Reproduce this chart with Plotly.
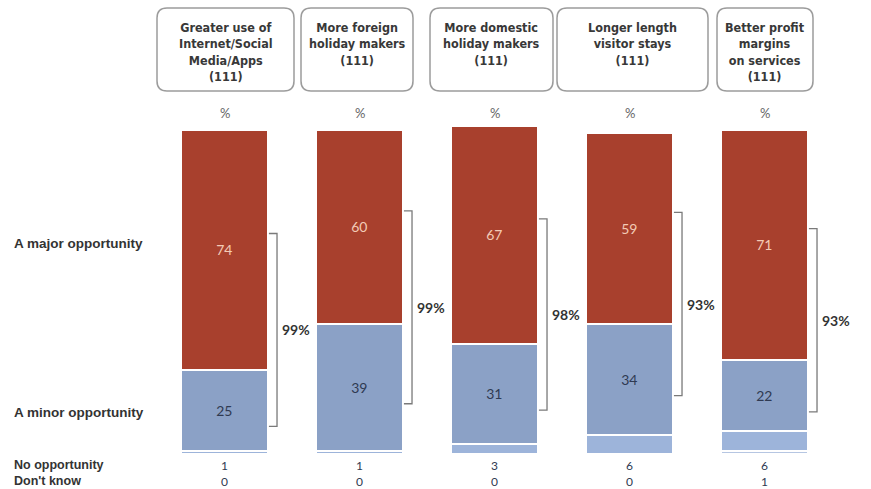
import plotly.graph_objects as go

# Survey data: share of respondents (%) per opportunity area
categories = [
    "Greater use of<br>Internet/Social<br>Media/Apps<br>(111)",
    "More foreign<br>holiday makers<br>(111)",
    "More domestic<br>holiday makers<br>(111)",
    "Longer length<br>visitor stays<br>(111)",
    "Better profit<br>margins<br>on services<br>(111)",
]
major = [74, 60, 67, 59, 71]
minor = [25, 39, 31, 34, 22]
no_opp = [1, 1, 3, 6, 6]
dont_know = [0, 0, 0, 0, 1]
row_labels = ["A major opportunity", "A minor opportunity", "No opportunity", "Don't know"]

W, H = 871, 489
ML, MR, MT, MB = 157, 39, 120, 35
PW, PH = W - ML - MR, H - MT - MB
YMAX = 103

C_MAJOR = "#A8402D"
C_MINOR = "#8BA1C6"
C_NOOP = "#9DB4DA"
C_DK = "#B6C6E2"

NUM_FONT = "Lato, 'Open Sans', sans-serif"
HEAD_FONT = "'Liberation Sans Narrow', 'Arial Narrow', 'DejaVu Sans Condensed', sans-serif"
ROW_FONT = "'Liberation Sans', Arial, sans-serif"

x = list(range(len(categories)))
BAR_W = 0.648
line = dict(color="white", width=2.5)

fig = go.Figure()
fig.add_bar(x=x, y=dont_know, width=BAR_W, marker=dict(color=C_DK, line=line),
            hoverinfo="skip")
fig.add_bar(x=x, y=no_opp, width=BAR_W, marker=dict(color=C_NOOP, line=line),
            hoverinfo="skip")
fig.add_bar(x=x, y=minor, width=BAR_W, marker=dict(color=C_MINOR, line=line),
            text=[str(v) for v in minor], textposition="inside",
            insidetextanchor="middle", constraintext="none",
            textfont=dict(family=NUM_FONT, size=14, color="#2F3A52"),
            hoverinfo="skip")
fig.add_bar(x=x, y=major, width=BAR_W, marker=dict(color=C_MAJOR, line=line),
            text=[str(v) for v in major], textposition="inside",
            insidetextanchor="middle", constraintext="none",
            textfont=dict(family=NUM_FONT, size=14, color="#F3CBB6"),
            hoverinfo="skip")


def px_x(X):
    return (X - ML) / PW


def px_y(Y):
    return (H - MB - Y) / PH


shapes = []
annotations = []

# Rounded header boxes (left, right pixel edges)
box_edges = [(157, 294), (301, 413), (430, 553), (557, 708), (717, 813)]
box_top, box_bot, r = 8, 91, 10
for (l, rr), label in zip(box_edges, categories):
    x0, x1 = px_x(l), px_x(rr)
    y0, y1 = px_y(box_bot), px_y(box_top)
    rx, ry = r / PW, r / PH
    path = (f"M {x0+rx},{y1} L {x1-rx},{y1} Q {x1},{y1} {x1},{y1-ry} "
            f"L {x1},{y0+ry} Q {x1},{y0} {x1-rx},{y0} L {x0+rx},{y0} "
            f"Q {x0},{y0} {x0},{y0+ry} L {x0},{y1-ry} Q {x0},{y1} {x0+rx},{y1} Z")
    shapes.append(dict(type="path", path=path, xref="paper", yref="paper",
                       line=dict(color="#9C9C9C", width=1.5)))
    annotations.append(dict(x=px_x((l + rr) / 2), y=px_y(18), xref="paper", yref="paper",
                            text=f"<b>{label}</b>", showarrow=False, xanchor="center",
                            yanchor="top", align="center",
                            font=dict(family=HEAD_FONT, size=12.5, color="#383838")))

# "%" marker above each bar
for i in x:
    annotations.append(dict(x=i, y=px_y(113), xref="x", yref="paper", text="%",
                            showarrow=False, yanchor="middle",
                            font=dict(family=NUM_FONT, size=13, color="#666666")))

# Brackets spanning major + minor with combined total
tick0, tick1 = BAR_W / 2 + 0.005, BAR_W / 2 + 0.065
for i in x:
    base_minor = dont_know[i] + no_opp[i]
    minor_mid = base_minor + minor[i] / 2
    major_mid = base_minor + minor[i] + major[i] / 2
    yb, yt = minor_mid - 5, major_mid + 5
    xb = i + tick1
    path = f"M {i+tick0},{yt} L {xb},{yt} L {xb},{yb} L {i+tick0},{yb}"
    shapes.append(dict(type="path", path=path, xref="x", yref="y",
                       line=dict(color="#7A7A7A", width=1.3)))
    total = major[i] + minor[i]
    annotations.append(dict(x=xb + 0.02, y=(yt + yb) / 2, xref="x", yref="y",
                            text=f"<b>{total}%</b>", showarrow=False, xanchor="left",
                            yanchor="middle",
                            font=dict(family=NUM_FONT, size=14, color="#333333")))

# Small categories listed in rows beneath the bars
ROW_NOOP, ROW_DK = 465, 481
for i in x:
    annotations.append(dict(x=i, y=px_y(ROW_NOOP), xref="x", yref="paper", text=str(no_opp[i]),
                            showarrow=False, yanchor="middle", borderpad=0,
                            font=dict(family=NUM_FONT, size=12, color="#2F3A52")))
    annotations.append(dict(x=i, y=px_y(ROW_DK), xref="x", yref="paper", text=str(dont_know[i]),
                            showarrow=False, yanchor="middle", borderpad=0,
                            font=dict(family=NUM_FONT, size=12, color="#2F3A52")))

# Row labels on the left
for label, Y, fs in zip(row_labels, [243, 412, ROW_NOOP, ROW_DK], [13.5, 13.5, 12.5, 12.5]):
    annotations.append(dict(x=px_x(13), y=px_y(Y), xref="paper", yref="paper",
                            text=f"<b>{label}</b>", showarrow=False, xanchor="left",
                            yanchor="middle", borderpad=0,
                            font=dict(family=ROW_FONT, size=fs, color="#333333")))

fig.update_layout(
    width=W, height=H,
    margin=dict(l=ML, r=MR, t=MT, b=MB, pad=0),
    barmode="stack", bargap=0,
    showlegend=False,
    plot_bgcolor="white", paper_bgcolor="white",
    xaxis=dict(range=[-0.5, 4.5], visible=False, fixedrange=True),
    yaxis=dict(range=[0, YMAX], visible=False, fixedrange=True),
    shapes=shapes, annotations=annotations,
    uniformtext=dict(mode=False),
)

fig.write_html("out.html", config={"displayModeBar": False})
